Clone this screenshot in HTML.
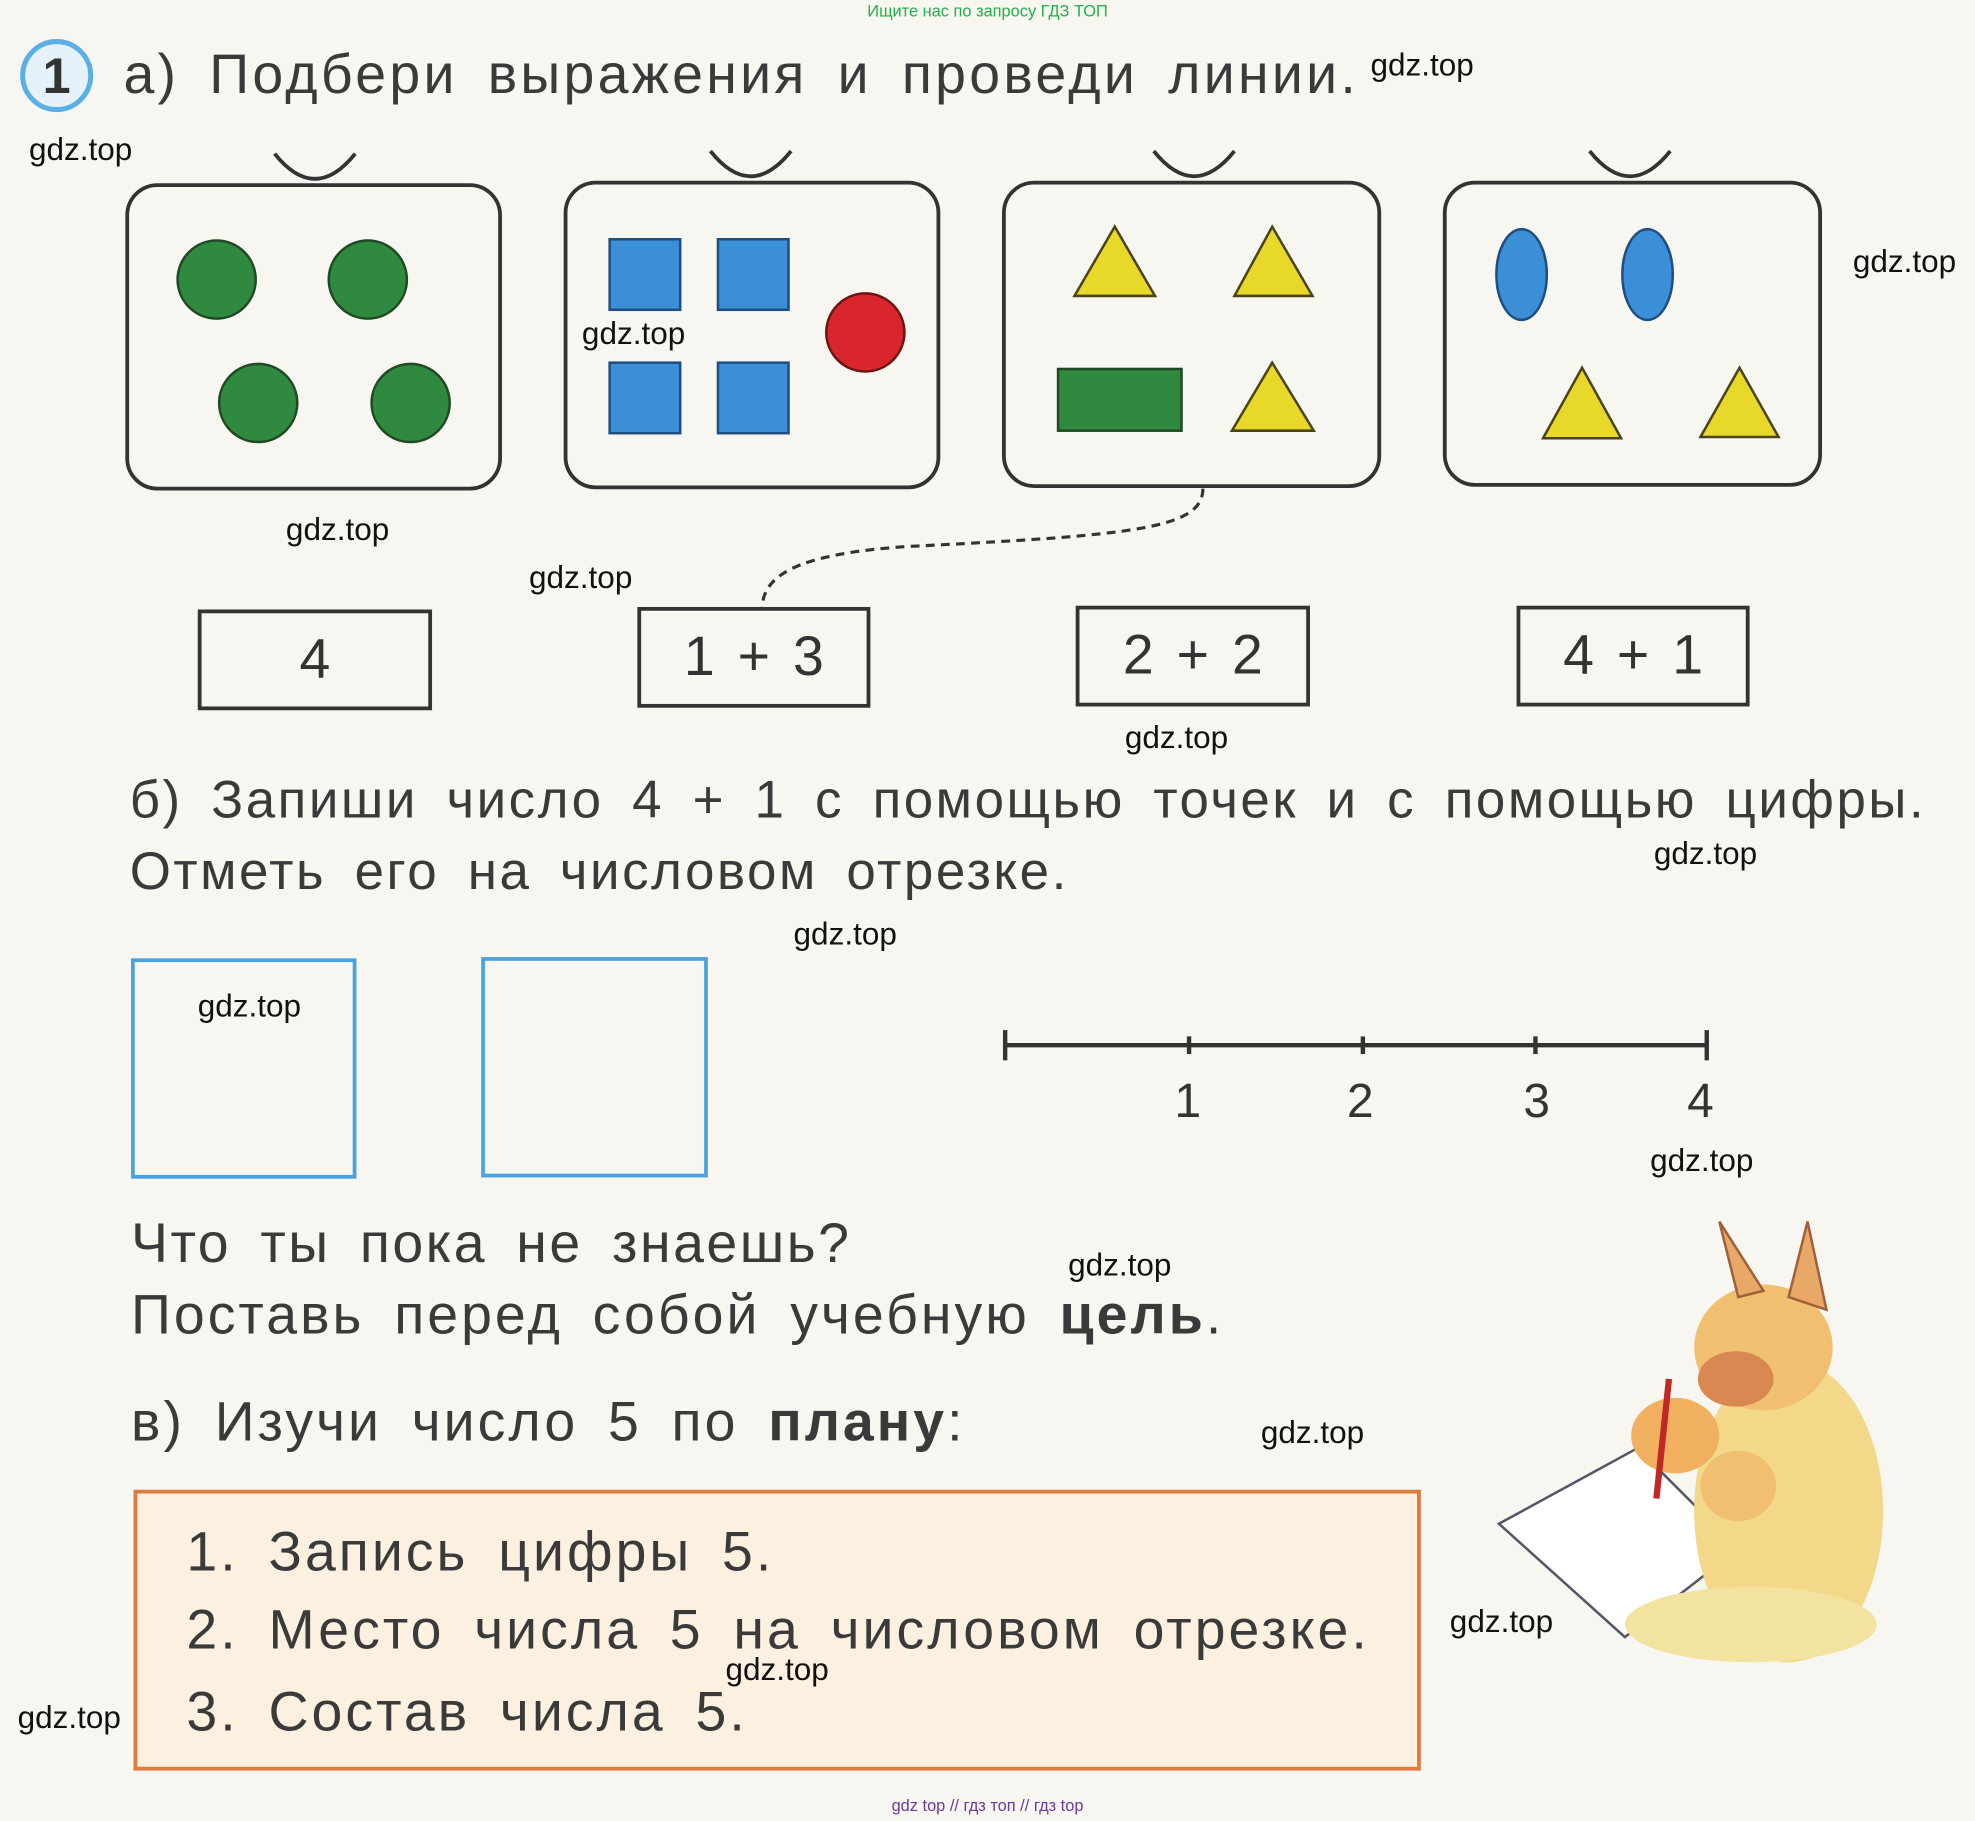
<!DOCTYPE html>
<html><head><meta charset="utf-8"><style>
html,body{margin:0;padding:0;background:#f8f6f0;overflow:hidden}
#w{position:absolute;left:0;top:0;width:1568px;height:1446px;transform:scale(1.2596,1.2593);transform-origin:0 0;background:#f8f6f0;font-family:"Liberation Sans",sans-serif;color:#3a3a3a}
.t{position:absolute;white-space:nowrap;font-size:44px;word-spacing:9px;letter-spacing:2.4px;line-height:1}
.wm{position:absolute;font-size:25px;color:#111;white-space:nowrap;line-height:1}
.nb{position:absolute;border:3px solid #333;box-sizing:border-box;font-size:44px;display:flex;align-items:center;justify-content:center;word-spacing:6px;color:#333}
</style></head><body><div id="w">
<div style="position:absolute;left:0;width:1568px;top:1px;text-align:center;font-size:13px;color:#22b04a">Ищите нас по запросу ГДЗ ТОП</div>
<div style="position:absolute;left:16px;top:31px;width:58px;height:58px;border:4px solid #5ab0e4;border-radius:50%;background:#e6f2fa;box-sizing:border-box;text-align:center;font:bold 40px/52px 'Liberation Sans',sans-serif;color:#333">1</div>
<div class="t" style="left:98px;top:38px;letter-spacing:2.6px">а) Подбери выражения и проведи линии.</div>
<svg style="position:absolute;left:0;top:0" width="1568" height="1446">
<g fill="none" stroke="#333" stroke-width="3">
<rect x="101" y="147" width="296" height="241" rx="24"/>
<rect x="449" y="145" width="296" height="242" rx="24"/>
<rect x="797" y="145" width="298" height="241" rx="24"/>
<rect x="1147" y="145" width="298" height="240" rx="24"/>
<path d="M218 122 Q250 162 282 122"/>
<path d="M564 120 Q596 160 628 120"/>
<path d="M916 120 Q948 160 980 120"/>
<path d="M1262 120 Q1294 160 1326 120"/>
<path d="M955 388 C955 420 900 425 720 434 C630 440 605 458 605 484" stroke-dasharray="7 5" stroke-width="2.5"/>
</g>
<g fill="#2f8a40" stroke="#1f4a25" stroke-width="2">
<circle cx="172" cy="222" r="31"/><circle cx="292" cy="222" r="31"/><circle cx="205" cy="320" r="31"/><circle cx="326" cy="320" r="31"/>
<rect x="840" y="293" width="98" height="49"/>
</g>
<g fill="#3b8fd6" stroke="#1e4f80" stroke-width="2">
<rect x="484" y="190" width="56" height="56"/><rect x="570" y="190" width="56" height="56"/>
<rect x="484" y="288" width="56" height="56"/><rect x="570" y="288" width="56" height="56"/>
<ellipse cx="1208" cy="218" rx="20" ry="36"/><ellipse cx="1308" cy="218" rx="20" ry="36"/>
</g>
<circle cx="687" cy="264" r="31" fill="#d8262c" stroke="#6a1414" stroke-width="2"/>
<g fill="#e8d82a" stroke="#4a4418" stroke-width="2">
<polygon points="885,180 853,235 917,235"/><polygon points="1010,180 980,235 1042,235"/>
<polygon points="1010,288 978,342 1043,342"/><polygon points="1256,292 1225,348 1287,348"/>
<polygon points="1381,292 1350,347 1412,347"/>
</g>
<g stroke="#333" stroke-width="3.5"><line x1="798" y1="830" x2="1355" y2="830"/>
<line x1="798" y1="818" x2="798" y2="842"/><line x1="1355" y1="818" x2="1355" y2="842"/>
<line x1="944" y1="823" x2="944" y2="837"/><line x1="1082" y1="823" x2="1082" y2="837"/><line x1="1219" y1="823" x2="1219" y2="837"/></g>
<g font-family="Liberation Sans" font-size="38" fill="#333" text-anchor="middle"><text x="943" y="887">1</text><text x="1080" y="887">2</text><text x="1220" y="887">3</text><text x="1350" y="887">4</text></g>
<g>
<path d="M1190 1210 L1300 1150 L1380 1230 L1290 1300 Z" fill="#fff" stroke="#556" stroke-width="2"/>
<ellipse cx="1420" cy="1200" rx="75" ry="120" fill="#f3d88a"/>
<ellipse cx="1400" cy="1070" rx="55" ry="50" fill="#f0c070"/>
<ellipse cx="1378" cy="1095" rx="30" ry="22" fill="#d88850"/>
<path d="M1380 1030 L1365 970 L1400 1025 Z M1420 1030 L1435 970 L1450 1040 Z" fill="#e8a868" stroke="#a0603a" stroke-width="2"/>
<ellipse cx="1330" cy="1140" rx="35" ry="30" fill="#f0b060"/>
<ellipse cx="1380" cy="1180" rx="30" ry="28" fill="#f0c070"/>
<line x1="1325" y1="1095" x2="1315" y2="1190" stroke="#c02828" stroke-width="5"/>
<ellipse cx="1390" cy="1290" rx="100" ry="30" fill="#f3e3a0"/>
</g>
</svg>
<div class="nb" style="left:157px;top:484px;width:186px;height:80px">4</div>
<div class="nb" style="left:506px;top:482px;width:185px;height:80px">1 + 3</div>
<div class="nb" style="left:854px;top:481px;width:186px;height:80px">2 + 2</div>
<div class="nb" style="left:1204px;top:481px;width:185px;height:80px">4 + 1</div>
<div class="t" style="left:103px;top:614px;font-size:42px;letter-spacing:2px">б) Запиши число 4 + 1 с помощью точек и с помощью цифры.</div>
<div class="t" style="left:103px;top:671px;font-size:42px;letter-spacing:2px">Отметь его на числовом отрезке.</div>
<div style="position:absolute;left:104px;top:761px;width:179px;height:175px;border:3px solid #4aa3df;box-sizing:border-box"></div>
<div style="position:absolute;left:382px;top:760px;width:180px;height:175px;border:3px solid #4aa3df;box-sizing:border-box"></div>
<div class="t" style="left:104px;top:966px;letter-spacing:2px">Что ты пока не знаешь?</div>
<div class="t" style="left:104px;top:1023px">Поставь перед собой учебную <b>цель</b>.</div>
<div class="t" style="left:104px;top:1108px">в) Изучи число 5 по <b>плану</b>:</div>
<div style="position:absolute;left:106px;top:1183px;width:1022px;height:223px;border:3px solid #e07a3e;background:#fcf1e0;box-sizing:border-box"></div>
<div class="t" style="left:148px;top:1211px">1. Запись цифры 5.</div>
<div class="t" style="left:148px;top:1273px">2. Место числа 5 на числовом отрезке.</div>
<div class="t" style="left:148px;top:1338px">3. Состав числа 5.</div>
<div class="wm" style="left:23px;top:107px">gdz.top</div>
<div class="wm" style="left:1088px;top:40px">gdz.top</div>
<div class="wm" style="left:1471px;top:196px">gdz.top</div>
<div class="wm" style="left:462px;top:253px">gdz.top</div>
<div class="wm" style="left:227px;top:409px">gdz.top</div>
<div class="wm" style="left:420px;top:447px">gdz.top</div>
<div class="wm" style="left:893px;top:574px">gdz.top</div>
<div class="wm" style="left:1313px;top:666px">gdz.top</div>
<div class="wm" style="left:630px;top:730px">gdz.top</div>
<div class="wm" style="left:157px;top:787px">gdz.top</div>
<div class="wm" style="left:1310px;top:910px">gdz.top</div>
<div class="wm" style="left:848px;top:993px">gdz.top</div>
<div class="wm" style="left:1001px;top:1126px">gdz.top</div>
<div class="wm" style="left:1151px;top:1276px">gdz.top</div>
<div class="wm" style="left:576px;top:1314px">gdz.top</div>
<div class="wm" style="left:14px;top:1352px">gdz.top</div>
<div style="position:absolute;left:0;width:1568px;top:1426px;text-align:center;font-size:13px;color:#6a3aa0">gdz top // гдз топ // гдз top</div>
</div></body></html>
